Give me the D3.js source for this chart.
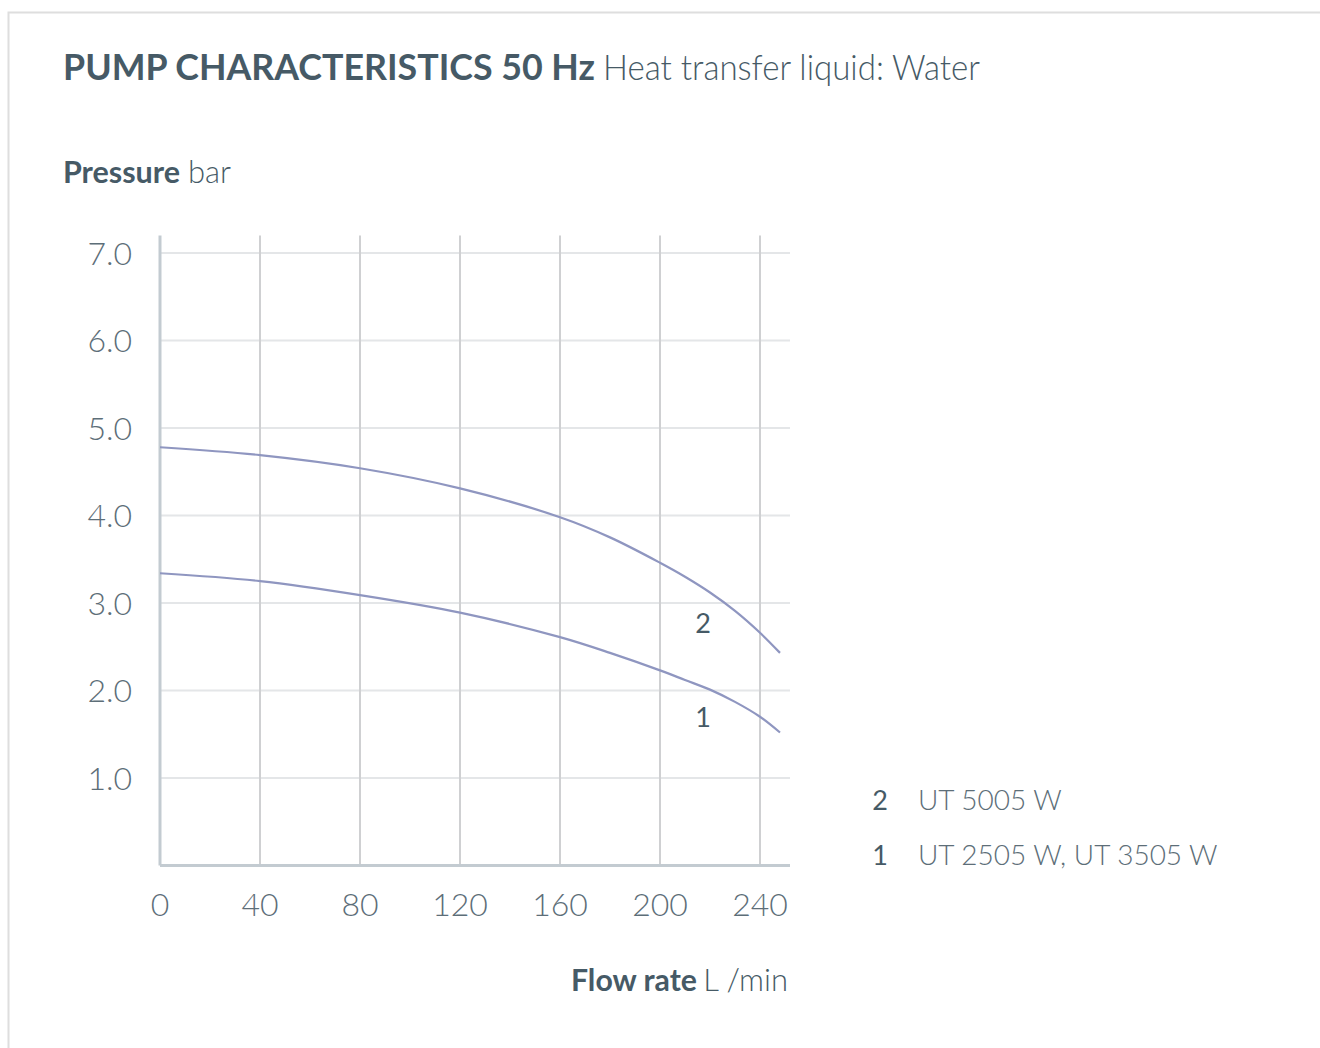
<!DOCTYPE html>
<html><head><meta charset="utf-8">
<script src="https://cdn.jsdelivr.net/npm/d3@7"></script>
<style>
html,body{margin:0;padding:0;background:#fff;}
svg{display:block;font-family:Lato,"Open Sans",sans-serif;}
</style></head><body>
<svg id="c" width="1320" height="1048"></svg>
<script>
const flowRates = [0, 40, 80, 120, 160, 180, 200, 210, 220, 230, 240, 248];
const curve2 = [4.78, 4.69, 4.54, 4.31, 3.98, 3.75, 3.46, 3.30, 3.12, 2.91, 2.66, 2.43];
const curve1 = [3.34, 3.25, 3.09, 2.89, 2.61, 2.43, 2.23, 2.12, 2.01, 1.87, 1.70, 1.52];
const xTicks = [0, 40, 80, 120, 160, 200, 240];
const yTicks = [1, 2, 3, 4, 5, 6, 7];
const legendItems = [{id: "2", label: "UT 5005 W"}, {id: "1", label: "UT 2505 W, UT 3505 W"}];

const svg = d3.select("#c");
const dark = "#465a66", mid = "#5d6e78", lineC = "#8f96c0";

svg.append("rect").attr("x", 8.5).attr("y", 12.5).attr("width", 1400).attr("height", 1100)
  .attr("fill", "none").attr("stroke", "#dedede").attr("stroke-width", 2);

const x = d3.scaleLinear().domain([0, 252]).range([160, 790]);
const y = d3.scaleLinear().domain([0, 7.2]).range([865.5, 235.5]);

// title
svg.append("text").attr("x", 63).attr("y", 80).attr("font-size", 36).attr("font-weight", 700)
  .attr("fill", dark).attr("textLength", 532).attr("lengthAdjust", "spacingAndGlyphs")
  .text("PUMP CHARACTERISTICS 50 Hz");
svg.append("text").attr("x", 603).attr("y", 80).attr("font-size", 36).attr("font-weight", 300)
  .attr("fill", dark).attr("textLength", 377).attr("lengthAdjust", "spacingAndGlyphs")
  .text("Heat transfer liquid: Water");

svg.append("text").attr("x", 63).attr("y", 183).attr("font-size", 31).attr("font-weight", 700)
  .attr("fill", dark).attr("textLength", 117).attr("lengthAdjust", "spacingAndGlyphs").text("Pressure");
svg.append("text").attr("x", 188).attr("y", 183).attr("font-size", 31).attr("font-weight", 300)
  .attr("fill", dark).text("bar");

// grid
const g = svg.append("g");
g.selectAll(".hg").data(yTicks).join("line")
  .attr("x1", x(0)).attr("x2", x(252)).attr("y1", d => y(d)).attr("y2", d => y(d))
  .attr("stroke", "#e4e6e8").attr("stroke-width", 2);
g.selectAll(".vg").data(xTicks.slice(1)).join("line")
  .attr("x1", d => x(d)).attr("x2", d => x(d)).attr("y1", y(7.2)).attr("y2", y(0))
  .attr("stroke", "#cfd0d2").attr("stroke-width", 2);
g.append("line").attr("x1", x(0)).attr("x2", x(0)).attr("y1", y(7.2)).attr("y2", y(0))
  .attr("stroke", "#c3cbd1").attr("stroke-width", 3);
g.append("line").attr("x1", x(0)).attr("x2", x(252)).attr("y1", y(0)).attr("y2", y(0))
  .attr("stroke", "#c3cbd1").attr("stroke-width", 3);

// tick labels
svg.selectAll(".yt").data(yTicks).join("text")
  .attr("x", 132).attr("y", d => y(d) + 11.5).attr("text-anchor", "end")
  .attr("font-size", 32).attr("font-weight", 300).attr("fill", mid).text(d => d.toFixed(1));
svg.selectAll(".xt").data(xTicks).join("text")
  .attr("x", d => x(d)).attr("y", 916).attr("text-anchor", "middle")
  .attr("font-size", 32).attr("font-weight", 300).attr("fill", mid).text(d => d);

svg.append("text").attr("x", 571).attr("y", 991).attr("font-size", 31).attr("font-weight", 700)
  .attr("fill", dark).attr("textLength", 126).attr("lengthAdjust", "spacingAndGlyphs").text("Flow rate");
svg.append("text").attr("x", 788).attr("y", 991).attr("text-anchor", "end").attr("font-size", 31)
  .attr("font-weight", 300).attr("fill", dark).text("L /min");

// curves
const line = d3.line().x(d => x(d[0])).y(d => y(d[1])).curve(d3.curveCatmullRom.alpha(0.5));
[curve2, curve1].forEach(s => {
  svg.append("path").attr("d", line(flowRates.map((f, i) => [f, s[i]])))
    .attr("fill", "none").attr("stroke", lineC).attr("stroke-width", 2.2);
});
svg.append("text").attr("x", 703).attr("y", 633).attr("text-anchor", "middle").attr("font-size", 27).attr("font-weight", 400).attr("fill", dark).text("2");
svg.append("text").attr("x", 703).attr("y", 727).attr("text-anchor", "middle").attr("font-size", 27).attr("font-weight", 400).attr("fill", dark).text("1");

// legend
const lg = svg.selectAll(".lg").data(legendItems).join("g")
  .attr("transform", (d, i) => `translate(0, ${810 + i * 55})`);
lg.append("text").attr("x", 888).attr("text-anchor", "end").attr("font-size", 27).attr("font-weight", 400).attr("fill", dark).text(d => d.id);
lg.append("text").attr("x", 918).attr("font-size", 28).attr("font-weight", 300).attr("fill", mid).text(d => d.label);
</script>
</body></html>
